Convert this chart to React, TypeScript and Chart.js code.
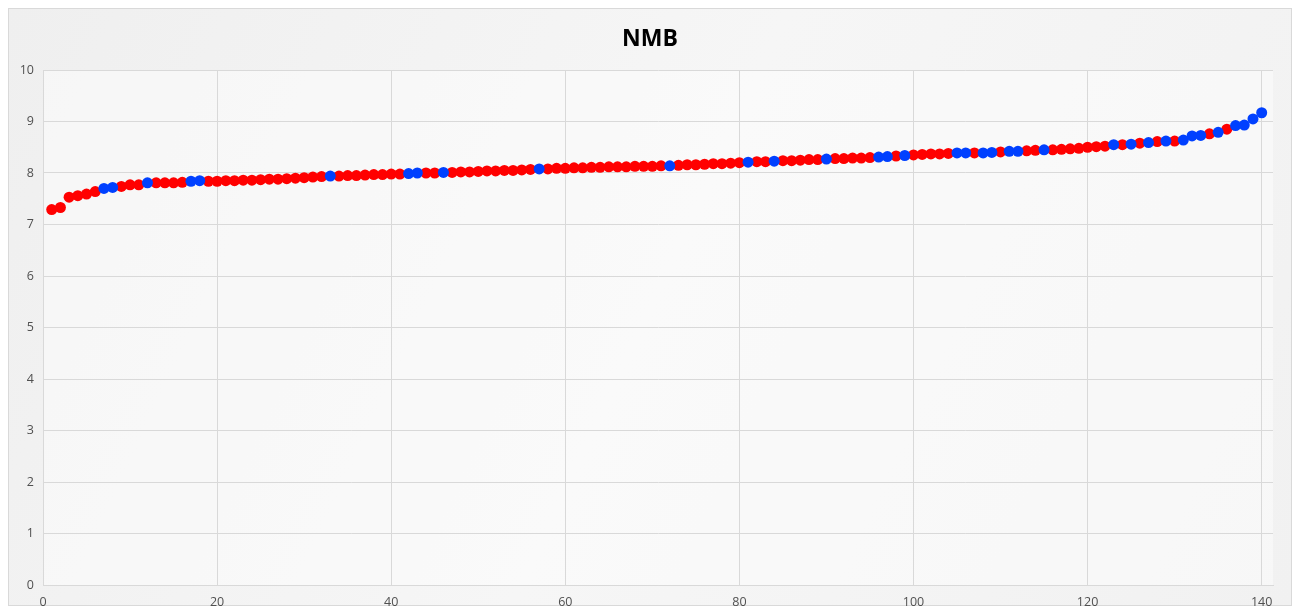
import React, { useEffect, useRef } from "react";
import { Chart, registerables } from "chart.js";

Chart.register(...registerables);

const chartTitle = "NMB";

const nmbValues: number[] = [
  7.29, 7.33, 7.53, 7.56, 7.59, 7.64, 7.70, 7.72, 7.74, 7.77,
  7.77, 7.81, 7.81, 7.81, 7.81, 7.82, 7.84, 7.85, 7.84, 7.84,
  7.85, 7.85, 7.86, 7.86, 7.87, 7.88, 7.88, 7.89, 7.90, 7.91,
  7.92, 7.93, 7.94, 7.94, 7.95, 7.95, 7.96, 7.97, 7.97, 7.98,
  7.98, 7.99, 8.00, 8.00, 8.00, 8.01, 8.01, 8.02, 8.02, 8.03,
  8.04, 8.04, 8.05, 8.05, 8.06, 8.07, 8.08, 8.08, 8.09, 8.09,
  8.10, 8.10, 8.11, 8.11, 8.12, 8.12, 8.12, 8.13, 8.13, 8.13,
  8.14, 8.14, 8.15, 8.16, 8.16, 8.17, 8.18, 8.18, 8.19, 8.20,
  8.21, 8.22, 8.22, 8.23, 8.24, 8.24, 8.25, 8.26, 8.26, 8.27,
  8.28, 8.28, 8.29, 8.29, 8.30, 8.31, 8.32, 8.33, 8.34, 8.35,
  8.36, 8.37, 8.37, 8.38, 8.39, 8.39, 8.39, 8.39, 8.40, 8.41,
  8.42, 8.42, 8.43, 8.44, 8.45, 8.45, 8.46, 8.47, 8.48, 8.50,
  8.51, 8.52, 8.55, 8.55, 8.56, 8.58, 8.59, 8.61, 8.62, 8.62,
  8.64, 8.72, 8.73, 8.76, 8.79, 8.85, 8.92, 8.93, 9.05, 9.17,
];

// 1-based positions of the points drawn in blue
const blueIndices: number[] = [
  7, 8, 12, 17, 18, 33, 42, 43, 46, 57, 72, 81, 84, 90, 96, 97, 99,
  105, 106, 108, 109, 111, 112, 115, 123, 125, 127, 129, 131, 132, 133,
  135, 137, 138, 139, 140,
];

const xTickValues: number[] = [0, 20, 40, 60, 80, 100, 120, 140];
const yTickStep = 1;

export default function App() {
  const canvasRef = useRef<HTMLCanvasElement | null>(null);

  useEffect(() => {
    const canvas = canvasRef.current;
    if (!canvas) return;

    const allPoints = nmbValues.map((v, i) => ({ x: i + 1, y: v }));
    const redPoints = allPoints.filter((p) => !blueIndices.includes(p.x));
    const bluePoints = allPoints.filter((p) => blueIndices.includes(p.x));

    const bgPlugin = {
      id: "bgPlugin",
      beforeDraw(chart: any) {
        const { ctx, width, height } = chart;
        ctx.save();
        const g = ctx.createLinearGradient(0, 0, width, height);
        g.addColorStop(0, "#EFEFEF");
        g.addColorStop(0.5, "#F6F6F6");
        g.addColorStop(1, "#F1F1F1");
        ctx.fillStyle = g;
        ctx.fillRect(0, 0, width, height);
        ctx.strokeStyle = "#D9D9D9";
        ctx.lineWidth = 1;
        ctx.strokeRect(0.5, 0.5, width - 1, height - 1);
        const a = chart.chartArea;
        ctx.fillStyle = "rgba(255,255,255,0.45)";
        ctx.fillRect(a.left, a.top, a.right - a.left, a.bottom - a.top);
        ctx.fillStyle = "#000000";
        ctx.font = "bold 23px 'Open Sans', sans-serif";
        ctx.textAlign = "center";
        ctx.textBaseline = "middle";
        ctx.fillText(chartTitle, width / 2, 31);
        ctx.restore();
      },
    };

    const chart = new Chart(canvas, {
      type: "scatter",
      data: {
        datasets: [
          {
            label: "blue",
            data: bluePoints,
            backgroundColor: "#0040FF",
            borderColor: "#0040FF",
            pointRadius: 5.5,
            borderWidth: 0,
            order: 0,
          },
          {
            label: "red",
            data: redPoints,
            backgroundColor: "#FF0000",
            borderColor: "#FF0000",
            pointRadius: 5.5,
            borderWidth: 0,
            order: 1,
          },
        ],
      },
      options: {
        responsive: false,
        animation: false,
        layout: { padding: { top: 62, right: 19, left: 0, bottom: 0 } },
        plugins: {
          legend: { display: false },
          title: { display: false },
          tooltip: { enabled: false },
        },
        scales: {
          x: {
            type: "linear",
            min: 0,
            max: 141.3,
            afterBuildTicks: (scale: any) => {
              scale.ticks = xTickValues.map((v) => ({ value: v }));
            },
            afterFit: (scale: any) => {
              scale.height = 21;
            },
            ticks: {
              color: "#505050",
              font: { family: "'Open Sans', sans-serif", size: 12.5 },
              padding: 10,
              maxRotation: 0,
              autoSkip: false,
            },
            grid: { color: "#D9D9D9", drawTicks: false },
            border: { color: "#D9D9D9" },
          },
          y: {
            type: "linear",
            min: 0,
            max: 10,
            afterFit: (scale: any) => {
              scale.width = 35;
            },
            ticks: {
              stepSize: yTickStep,
              color: "#505050",
              font: { family: "'Open Sans', sans-serif", size: 12.5 },
              padding: 9,
            },
            grid: { color: "#D9D9D9", drawTicks: false },
            border: { color: "#D9D9D9" },
          },
        },
      },
      plugins: [bgPlugin],
    });

    return () => {
      chart.destroy();
    };
  }, []);

  return (
    <div style={{ width: 1284, height: 598 }}>
      <canvas ref={canvasRef} width={1284} height={598} style={{ display: "block" }} />
    </div>
  );
}
